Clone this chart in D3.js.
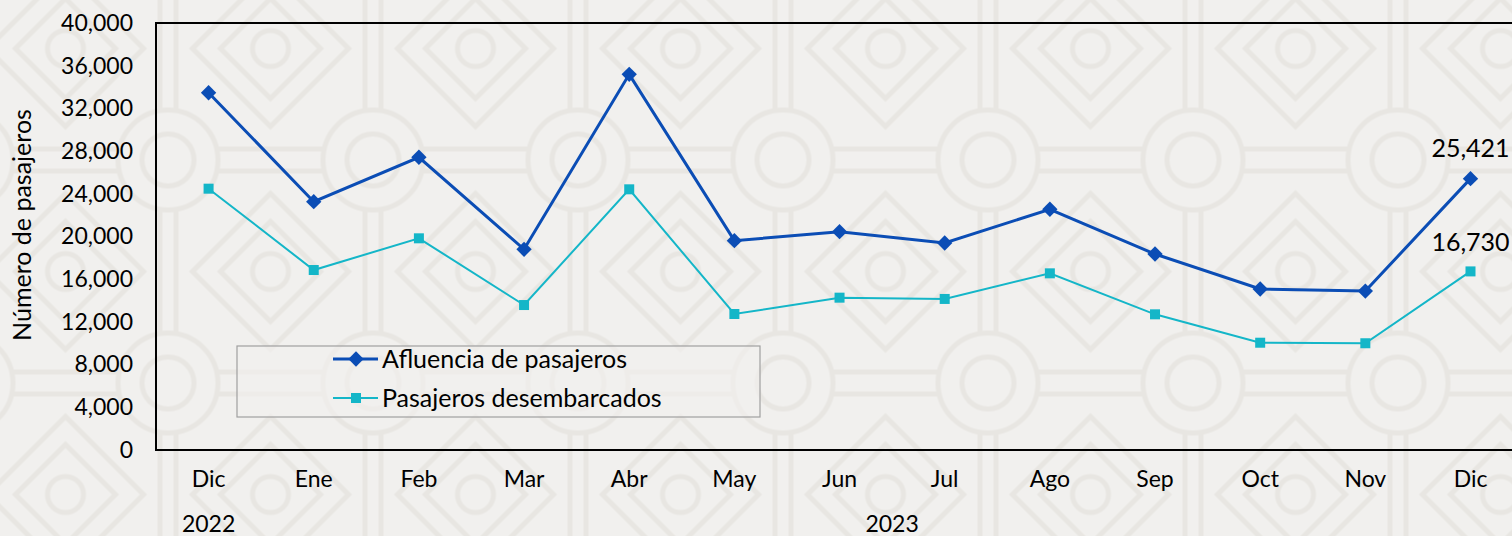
<!DOCTYPE html>
<html>
<head>
<meta charset="utf-8">
<script src="https://cdn.jsdelivr.net/npm/d3@7"></script>
<style>
  html, body { margin: 0; padding: 0; background: #f1f0ee; }
  svg { display: block; }
  text { font-family: "Lato", "Noto Sans", sans-serif; fill: #000; }
</style>
</head>
<body>
<svg id="chart" width="1512" height="536"></svg>
<script>
const months = ["Dic","Ene","Feb","Mar","Abr","May","Jun","Jul","Ago","Sep","Oct","Nov","Dic"];
const years = [{label: "2022", from: 0, to: 0}, {label: "2023", from: 1, to: 12}];
const afluencia = [33470, 23260, 27420, 18800, 35190, 19610, 20450, 19390, 22550, 18360, 15080, 14890, 25421];
const desembarcados = [24480, 16860, 19830, 13580, 24420, 12740, 14270, 14150, 16550, 12710, 10050, 10000, 16730];
const yTicks = [0, 4000, 8000, 12000, 16000, 20000, 24000, 28000, 32000, 36000, 40000];
const seriesNames = ["Afluencia de pasajeros", "Pasajeros desembarcados"];
const labeledValues = [{series: 0, index: 12, text: "25,421"}, {series: 1, index: 12, text: "16,730"}];

const svg = d3.select("#chart");
const W = 1512, H = 536;
const plotLeft = 156, plotTop = 23, plotBottom = 450, bandW = 105.16;
const FONT = "Lato, 'Noto Sans', sans-serif";

// background pattern
const defs = svg.append("defs");
const pw = 205, ph = 223;
const pat = defs.append("pattern")
  .attr("id", "bgpat").attr("patternUnits", "userSpaceOnUse")
  .attr("width", pw).attr("height", ph)
  .attr("x", 65.5).attr("y", 48.5);
pat.append("rect").attr("width", pw).attr("height", ph).attr("fill", "#f1f0ee");
const g = pat.append("g").attr("fill", "none").attr("stroke", "#e8e6e2").attr("stroke-width", 5);
const cx = pw / 2, cy = ph / 2;
g.append("line").attr("x1", 0).attr("x2", pw).attr("y1", cy - 11).attr("y2", cy - 11);
g.append("line").attr("x1", 0).attr("x2", pw).attr("y1", cy + 11).attr("y2", cy + 11);
g.append("line").attr("x1", cx - 8).attr("x2", cx - 8).attr("y1", 0).attr("y2", ph);
g.append("line").attr("x1", cx + 8).attr("x2", cx + 8).attr("y1", 0).attr("y2", ph);
[[0,0],[pw,0],[0,ph],[pw,ph]].forEach(([x0,y0]) => {
  const d = (r) => `M${x0},${y0-r}L${x0+r},${y0}L${x0},${y0+r}L${x0-r},${y0}Z`;
  g.append("path").attr("d", d(78));
  g.append("path").attr("d", d(50));
  g.append("circle").attr("cx", x0).attr("cy", y0).attr("r", 18);
});
g.append("circle").attr("cx", cx).attr("cy", cy).attr("r", 50).attr("fill", "#f1f0ee");
g.append("circle").attr("cx", cx).attr("cy", cy).attr("r", 26);

svg.append("rect").attr("width", W).attr("height", H).attr("fill", "url(#bgpat)");

// scales
const x = d3.scaleBand().domain(d3.range(months.length)).range([plotLeft, plotLeft + bandW * months.length]).padding(0);
const xc = i => x(i) + x.bandwidth() / 2;
const y = d3.scaleLinear().domain([0, 40000]).range([plotBottom, plotTop]);

// y axis labels
const yAxis = d3.axisLeft(y).tickValues(yTicks).tickFormat(d3.format(",")).tickSize(0).tickPadding(23);
const yg = svg.append("g").attr("transform", `translate(${plotLeft},0)`).call(yAxis);
yg.select(".domain").remove();
yg.selectAll("text").attr("font-size", 23).attr("font-family", FONT).attr("fill", "#000");

// x axis labels
const xAxis = d3.axisBottom(x).tickFormat(i => months[i]).tickSize(0).tickPadding(21);
const xg = svg.append("g").attr("transform", `translate(0,${plotBottom})`).call(xAxis);
xg.select(".domain").remove();
xg.selectAll("text").attr("font-size", 23).attr("font-family", FONT).attr("fill", "#000");

// year labels
svg.selectAll("text.year").data(years).join("text")
  .attr("class", "year")
  .attr("x", d => (xc(d.from) + xc(d.to)) / 2)
  .attr("y", 532)
  .attr("text-anchor", "middle")
  .attr("font-size", 23)
  .text(d => d.label);

// frame: left, top, bottom
svg.append("path")
  .attr("d", `M${W + 2},${plotTop}H${plotLeft}V${plotBottom}H${W + 2}`)
  .attr("fill", "none").attr("stroke", "#000").attr("stroke-width", 2);

// y title
svg.append("text")
  .attr("transform", `translate(31,225) rotate(-90)`)
  .attr("text-anchor", "middle")
  .attr("font-size", 25)
  .text("Número de pasajeros");

const c1 = "#0b4db5", c2 = "#14b6c8";
const line = d3.line().x((d, i) => xc(i)).y(d => y(d));

svg.append("path").datum(desembarcados).attr("d", line)
  .attr("fill", "none").attr("stroke", c2).attr("stroke-width", 2);
svg.selectAll("rect.m2").data(desembarcados).join("rect")
  .attr("class", "m2")
  .attr("x", (d, i) => xc(i) - 5).attr("y", d => y(d) - 5)
  .attr("width", 10).attr("height", 10).attr("fill", c2);

svg.append("path").datum(afluencia).attr("d", line)
  .attr("fill", "none").attr("stroke", c1).attr("stroke-width", 3);
const diamond = d3.symbol().type(d3.symbolDiamond2).size(150);
svg.selectAll("path.m1").data(afluencia).join("path")
  .attr("class", "m1")
  .attr("transform", (d, i) => `translate(${xc(i)},${y(d)})`)
  .attr("d", diamond).attr("fill", c1);

// data labels
const seriesData = [afluencia, desembarcados];
svg.selectAll("text.dl").data(labeledValues).join("text")
  .attr("class", "dl")
  .attr("x", d => xc(d.index))
  .attr("y", d => y(seriesData[d.series][d.index]) - (d.series === 0 ? 22 : 20))
  .attr("text-anchor", "middle")
  .attr("font-size", 25)
  .text(d => d.text);

// legend
const lg = svg.append("g");
lg.append("rect").attr("x", 237).attr("y", 346).attr("width", 523).attr("height", 71)
  .attr("fill", "#f1f0ee").attr("fill-opacity", 0.6).attr("stroke", "#a0a0a0").attr("stroke-width", 1.2);
const legendRows = [{name: seriesNames[0], color: c1, type: "diamond", y: 359},
                    {name: seriesNames[1], color: c2, type: "square", y: 398}];
legendRows.forEach(r => {
  lg.append("line").attr("x1", 333).attr("x2", 378).attr("y1", r.y).attr("y2", r.y)
    .attr("stroke", r.color).attr("stroke-width", r.type === "diamond" ? 3 : 2);
  if (r.type === "diamond") {
    lg.append("path").attr("transform", `translate(356,${r.y})`).attr("d", diamond).attr("fill", r.color);
  } else {
    lg.append("rect").attr("x", 351).attr("y", r.y - 5).attr("width", 10).attr("height", 10).attr("fill", r.color);
  }
  lg.append("text").attr("x", 382).attr("y", r.y).attr("dy", "0.35em")
    .attr("font-size", 25).text(r.name);
});
</script>
</body>
</html>
